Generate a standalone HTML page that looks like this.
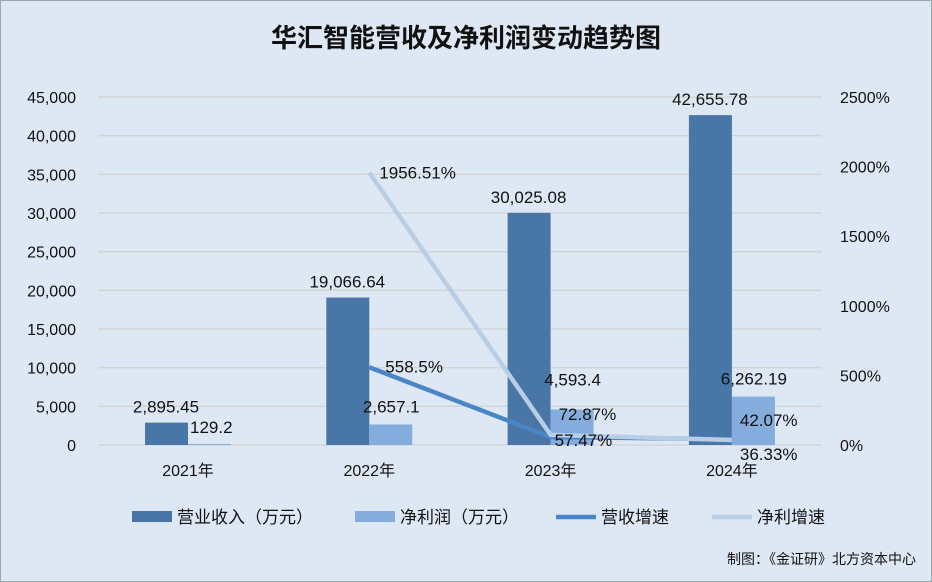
<!DOCTYPE html>
<html><head><meta charset="utf-8"><style>
body{margin:0;width:932px;height:582px;overflow:hidden;background:#fff;font-family:"Liberation Sans","Noto Sans CJK SC",sans-serif}
#wrap{position:absolute;left:0;top:0;width:930px;height:580px;background:#dee8f4;border:1px solid #9aa}
</style></head><body>
<div id="wrap">
<svg id="c" width="932" height="582" style="position:absolute;left:-1px;top:-1px"></svg>
</div>
<script>
const categories=["2021年","2022年","2023年","2024年"];
const revenue=[2895.45,19066.64,30025.08,42655.78];
const profit=[129.2,2657.1,4593.4,6262.19];
const revLabels=["2,895.45","19,066.64","30,025.08","42,655.78"];
const profLabels=["129.2","2,657.1","4,593.4","6,262.19"];
const revGrowth=[null,558.5,57.47,42.07];
const profGrowth=[null,1956.51,72.87,36.33];
const leftTicks=[0,5000,10000,15000,20000,25000,30000,35000,40000,45000];
const rightTicks=[0,500,1000,1500,2000,2500];
const NS="http://www.w3.org/2000/svg";
const svg=document.getElementById('c');
function mk(t,a,txt){const e=document.createElementNS(NS,t);for(const k in a)e.setAttribute(k,a[k]);if(txt!==undefined)e.textContent=txt;svg.appendChild(e);return e;}
const y0=445,yTop=97,x0=98,x1=822;
const yL=v=>y0-v/45000*(y0-yTop);
const yR=v=>y0-v/2500*(y0-yTop);
const xC=i=>188+i*181.3;
let t=mk('text',{x:466,y:47,'text-anchor':'middle','font-size':26,'font-weight':'bold',fill:'#111'},'华汇智能营收及净利润变动趋势图');

leftTicks.forEach(v=>{let g=mk('line',{x1:x0,x2:x1,y1:yL(v),y2:yL(v),stroke:'#d3d3d3','stroke-width':1.3});

let l=mk('text',{x:76,y:yL(v)+6,'text-anchor':'end','font-size':16,fill:'#111'},v.toLocaleString('en-US'));
});
rightTicks.forEach(v=>{let l=mk('text',{x:840,y:yR(v)+6,'font-size':16,fill:'#111'},v+'%');
});
const profDy=[0,-12,-24,-12];
categories.forEach((c,i)=>{
let b=mk('rect',{x:xC(i)-43,y:yL(revenue[i]),width:43,height:y0-yL(revenue[i]),fill:'#4776a7'});

let p=mk('rect',{x:xC(i),y:yL(profit[i]),width:43,height:y0-yL(profit[i]),fill:'#84acdc'});

let l=mk('text',{x:xC(i)-22,y:yL(revenue[i])-10,'text-anchor':'middle','font-size':17,fill:'#111'},revLabels[i]);

let l2=mk('text',{x:xC(i)+22,y:yL(profit[i])+profDy[i],'text-anchor':'middle','font-size':17,fill:'#111'},profLabels[i]);
if(i===0){l2.setAttribute('x',xC(i)+2);l2.setAttribute('y',y0-12);l2.setAttribute('text-anchor','start');}
if(i===3){l2.setAttribute('y',yL(profit[i])-12);}

let cl=mk('text',{x:xC(i),y:476,'text-anchor':'middle','font-size':16,fill:'#111'},c);
});
function line(arr,color,name){let pts=[];arr.forEach((v,i)=>{if(v!==null)pts.push(xC(i)+','+yR(v));});
let pl=mk('polyline',{points:pts.join(' '),fill:'none',stroke:color,'stroke-width':4.5,'stroke-linejoin':'round'});
}
line(revGrowth,'#4a86c5','revenue-growth-line');
line(profGrowth,'#b8cde6','profit-growth-line');
revGrowth.forEach((v,i)=>{if(v===null)return;let dy=[0,-1,3,-19][i];
let l=mk('text',{x:xC(i)+[0,16,4,8][i],y:yR(v)+6+dy,'font-size':17,fill:'#111'},v+'%');
});
profGrowth.forEach((v,i)=>{if(v===null)return;let dx=[0,10,8,8][i],dy=[0,6,-15,20][i];
let l=mk('text',{x:xC(i)+dx,y:yR(v)+dy,'font-size':17,fill:'#111'},v+'%');
});
const legend=[['rect','#4776a7','营业收入（万元）',132],['rect','#84acdc','净利润（万元）',355],['line','#4a86c5','营收增速',556],['line','#b8cde6','净利增速',712]];
legend.forEach(([k,c,txt,x])=>{let m;
if(k==='rect')m=mk('rect',{x:x,y:511,width:40,height:11,fill:c});else m=mk('line',{x1:x,x2:x+40,y1:517,y2:517,stroke:c,'stroke-width':4.5});

let l=mk('text',{x:x+45,y:523,'font-size':17,fill:'#111'},txt);
});
let s=mk('text',{x:916,y:564,'text-anchor':'end','font-size':14,fill:'#111'},'制图：《金证研》北方资本中心');

</script>
</body></html>
